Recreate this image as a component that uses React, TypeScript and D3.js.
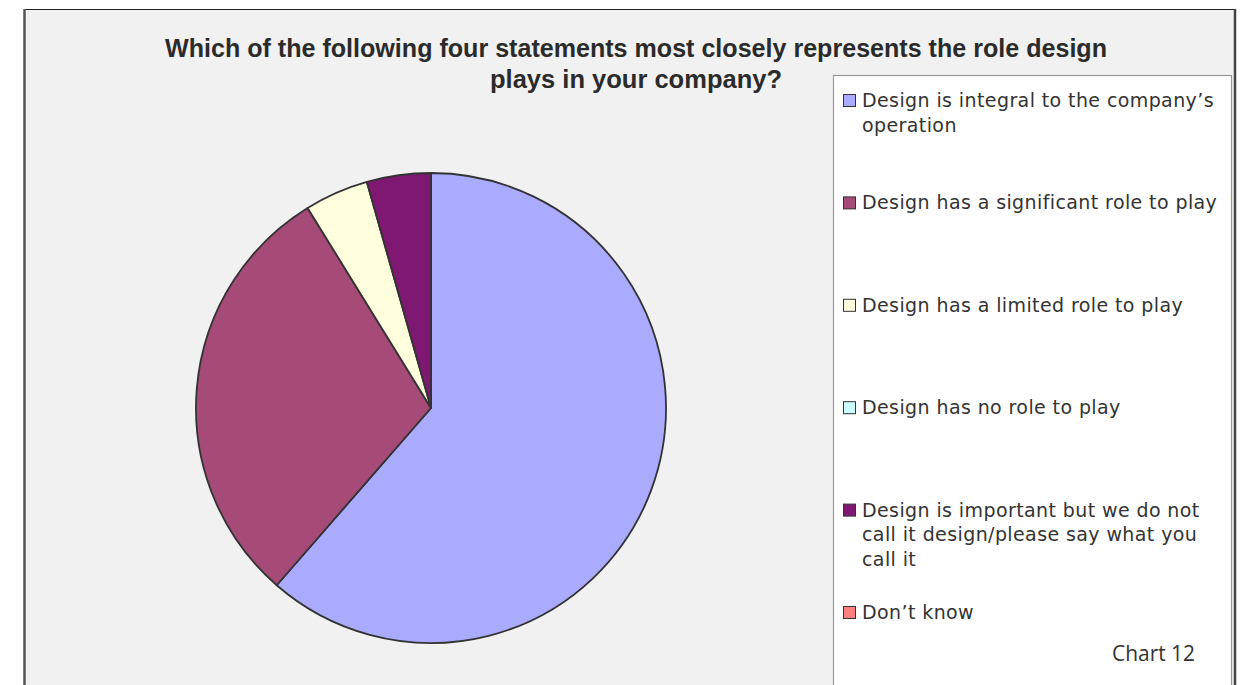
import React from "react";
import * as d3 from "d3";

const categories = [
  "Design is integral to the company\u2019s operation",
  "Design has a significant role to play",
  "Design has a limited role to play",
  "Design has no role to play",
  "Design is important but we do not call it design/please say what you call it",
  "Don\u2019t know",
];
const legendLines = [
  ["Design is integral to the company\u2019s", "operation"],
  ["Design has a significant role to play"],
  ["Design has a limited role to play"],
  ["Design has no role to play"],
  ["Design is important but we do not", "call it design/please say what you", "call it"],
  ["Don\u2019t know"],
];
const values = [61.4, 29.8, 4.4, 0, 4.4, 0];
const colors = ["#AAAAFF", "#A64A78", "#FFFFDD", "#CCFFFF", "#7F1872", "#FF8080"];
const titleLines = [
  "Which of the following four statements most closely represents the role design",
  "plays in your company?",
];

export default function App() {
  const W = 1243, H = 685;
  const cx = 431, cy = 408, r = 235;
  const data = categories.map((c, i) => ({ c, v: values[i], color: colors[i] }));
  const pie = d3.pie<any>().value((d) => d.v).sort(null);
  const arcs = pie(data).filter((a) => a.data.v > 0);
  const arc = d3.arc<any>().innerRadius(0).outerRadius(r);
  const legendY = d3.scaleLinear().domain([0, 5]).range([107, 619]);

  return (
    <svg width={W} height={H} style={{ position: "absolute", left: 0, top: 0, background: "#fff" }}>
      <rect x={24.5} y={9.5} width={1210} height={H} fill="#F1F1F1" />
      <line x1={24.5} y1={9.5} x2={1235} y2={9.5} stroke="#222" strokeWidth={1.2} />
      <line x1={24.5} y1={9} x2={24.5} y2={H} stroke="#555" strokeWidth={2.5} />
      <line x1={1235} y1={9} x2={1235} y2={H} stroke="#444" strokeWidth={2.5} />
      {titleLines.map((t, i) => (
        <text
          key={i}
          x={636}
          y={57 + i * 31}
          textAnchor="middle"
          fontFamily="Liberation Sans Narrow, Liberation Sans, Arial, sans-serif"
          fontWeight="bold"
          fontSize={25}
          fill="#2b2b2b"
          textLength={i === 0 ? 942 : 292}
          lengthAdjust="spacingAndGlyphs"
        >
          {t}
        </text>
      ))}
      <g transform={`translate(${cx},${cy})`}>
        {arcs.map((a, i) => (
          <path key={i} d={arc(a) as string} fill={a.data.color} stroke="#333" strokeWidth={1.8} strokeLinejoin="round" />
        ))}
      </g>
      <rect x={833.5} y={75.5} width={398} height={H} fill="#fff" stroke="#999" strokeWidth={1.2} />
      {legendLines.map((lines, i) => {
        const y0 = legendY(i);
        return (
          <g key={i}>
            <rect x={843.5} y={y0 - 12.5} width={12} height={12} fill={colors[i]} stroke="#333" strokeWidth={1} />
            {lines.map((ln, j) => (
              <text
                key={j}
                x={862}
                y={y0 + j * 24.5}
                fontFamily="DejaVu Sans, sans-serif"
                fontSize={19}
                letterSpacing={0.4}
                fill="#333"
              >
                {ln}
              </text>
            ))}
          </g>
        );
      })}
      <text x={1112} y={661} fontFamily="Open Sans, sans-serif" fontSize={21} fill="#333" textLength={83} lengthAdjust="spacingAndGlyphs">
        Chart 12
      </text>
    </svg>
  );
}
